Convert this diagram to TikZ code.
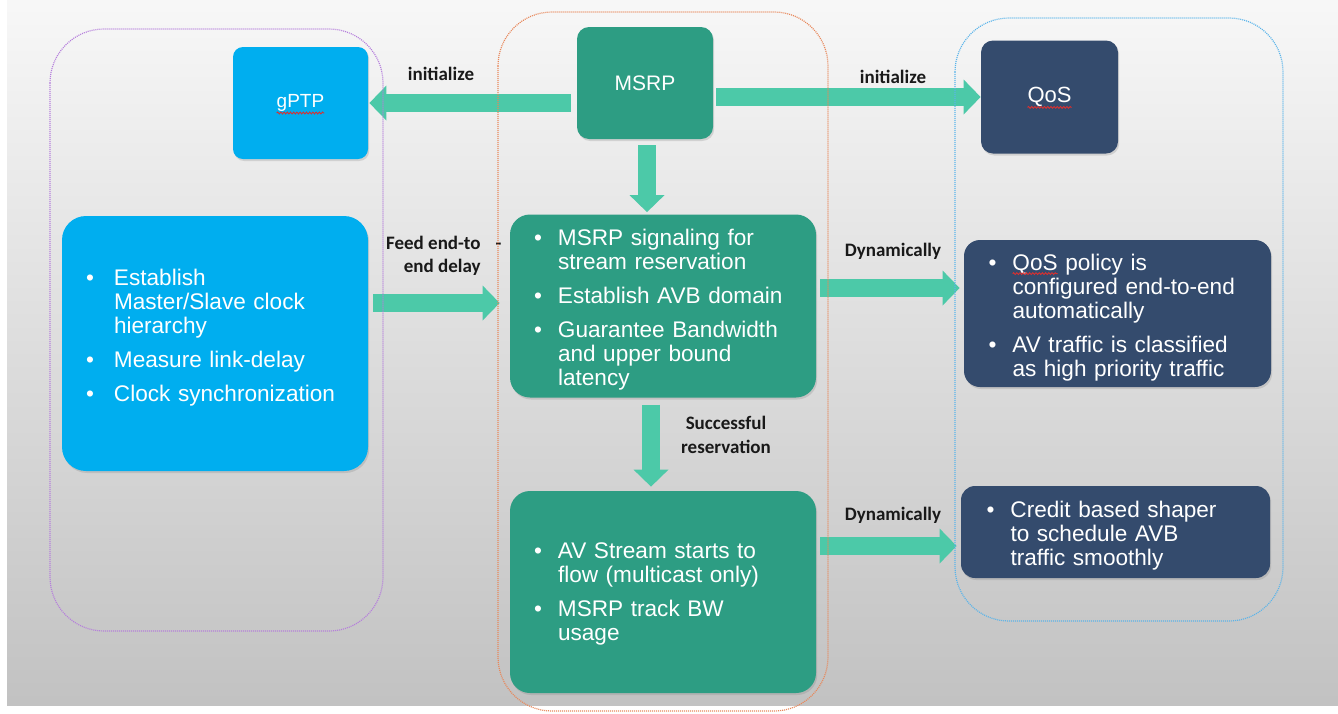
\documentclass[tikz,border=0pt]{standalone}
\usepackage{fontspec}
\setmainfont{Liberation Sans}
\newfontfamily\lblfont{Carlito}
\usetikzlibrary{arrows.meta,shadows,calc,decorations.pathmorphing}

\definecolor{cyanbox}{HTML}{00AEEF}
\definecolor{tealbox}{HTML}{2D9D83}
\definecolor{navybox}{HTML}{344B6D}
\definecolor{mint}{HTML}{4CC9A8}
\definecolor{grppurple}{HTML}{B57EDC}
\definecolor{grporange}{HTML}{E8875A}
\definecolor{grpblue}{HTML}{5AB4EA}
\definecolor{spellred}{HTML}{D93030}

% bullet item with hanging indent
\newcommand\bitem[2][12pt]{\par\hangindent=#1\hangafter=1\noindent\makebox[#1][l]{\textbullet}#2\par}
\newcommand\itemgap{\vspace{5pt}}

\tikzset{
  titlebox/.style={rectangle, inner sep=0pt, text=white,
    drop shadow={shadow xshift=0.6pt, shadow yshift=-1pt, opacity=0.25}},
  listbox/.style={rectangle, inner sep=0pt, text=white, text width=129pt, align=left,
    font=\fontsize{11.3}{12}\selectfont, minimum width=153pt,
    drop shadow={shadow xshift=0.6pt, shadow yshift=-1pt, opacity=0.25}},
  lbl/.style={inner sep=0pt, text=black!90,
    font=\lblfont\bfseries\fontsize{9.5}{11.75}\selectfont},
  blk/.style={draw=mint, line width=8.75pt,
    -{Triangle[width=17.5pt,length=8.5pt,line width=0pt]}},
  grp/.style={line width=0.6pt, dash pattern=on 0.5pt off 0.5pt, rounded corners=27pt},
  wavy/.style={draw=spellred, line width=0.45pt,
    decorate, decoration={snake, segment length=1.6pt, amplitude=0.45pt}},
}

\begin{document}
\begin{tikzpicture}[x=0.5pt,y=-0.5pt]
\useasboundingbox (0,0) rectangle (1338,713);
% page background
\fill[white] (0,0) rectangle (1338,713);
\shade[top color=white!97!black, middle color=white!92!black, bottom color=white!76!black]
  (7,0) rectangle (1338,705);

% title boxes
\node[titlebox, fill=cyanbox, rounded corners=5pt, minimum width=67.5pt, minimum height=56pt,
  font=\fontsize{9.5}{11}\selectfont] (gptp) at (300.5,103) {gPTP};
\node[titlebox, fill=tealbox, rounded corners=6pt, minimum width=68pt, minimum height=56pt,
  font=\fontsize{10.5}{12}\selectfont] (msrp) at (645,83) {MSRP};
\node[titlebox, fill=navybox, rounded corners=6pt, minimum width=68.5pt, minimum height=56.5pt,
  font=\fontsize{11}{12}\selectfont] (qos) at (1049.5,97) {QoS};

% bullet-list boxes
\node[listbox, fill=cyanbox, rounded corners=12pt, minimum height=127.5pt] (ptp) at (215,343.5)
  {\bitem[14pt]{Establish\newline Master/Slave clock\newline hierarchy}\itemgap
   \bitem[14pt]{Measure link-delay}\itemgap
   \bitem[14pt]{Clock synchronization}\vspace{10pt}};
\node[listbox, fill=tealbox, rounded corners=10pt, minimum height=91.5pt] (sig) at (663,306)
  {\bitem{MSRP signaling for\newline stream reservation}\itemgap
   \bitem{Establish AVB domain}\itemgap
   \bitem{Guarantee Bandwidth\newline and upper bound\newline latency}};
\node[listbox, fill=tealbox, rounded corners=10pt, minimum height=101pt] (av) at (663,592)
  {\bitem{AV Stream starts to\newline flow (multicast only)}\itemgap
   \bitem{MSRP track BW\newline usage}\vspace{2pt}};
\node[listbox, fill=navybox, rounded corners=8pt, minimum width=153.5pt, minimum height=73.5pt] (pol) at (1117.5,313.5)
  {\bitem{QoS policy is\newline configured end-to-end\newline automatically}\itemgap
   \bitem{AV traffic is classified\newline as high priority traffic}};
\node[listbox, fill=navybox, rounded corners=7pt, minimum width=154.5pt, minimum height=46pt] (cred) at (1115.5,532)
  {\bitem{Credit based shaper\newline to schedule AVB\newline traffic smoothly}};

% spell-check marks under gPTP and QoS
\draw[wavy] ($(gptp.center)+(-11.9pt,-5pt)$) -- ($(gptp.center)+(11.9pt,-5pt)$);
\draw[wavy] ($(qos.center)+(-11pt,-5.2pt)$) -- ($(qos.center)+(11pt,-5.2pt)$);
\draw[wavy] ($(pol.north west)+(24.5pt,-17pt)$) -- ($(pol.north west)+(47pt,-17pt)$);

% block arrows
\draw[blk] ($(msrp.west |- gptp.east)+(-3pt,0)$) -- ($(gptp.east)+(0.5pt,0)$);
\draw[blk] ($(msrp.east |- qos.west)+(1.5pt,0)$) -- (qos.west);
\draw[blk] ($(msrp.south)+(1pt,-3pt)$) -- ($(msrp.south |- sig.north)+(1pt,1pt)$);
\draw[blk] ($(ptp.east |- sig.west)+(2.5pt,1.5pt)$) -- ($(sig.west)+(-5pt,1.5pt)$);
\draw[blk] ($(sig.south)+(-6pt,-3.5pt)$) -- ($(sig.south |- av.north)+(-6pt,2pt)$);
\draw[blk] ($(sig.east)+(2pt,9pt)$) -- ($(sig.east -| pol.west)+(-2pt,9pt)$);
\draw[blk] ($(av.east |- cred.west)+(2pt,-7pt)$) -- ($(cred.west)+(-2pt,-7pt)$);

% arrow labels
\node[lbl] (init1) at (441,74) {initialize};
\node[lbl] (init2) at (893,77) {initialize};
\node[lbl, anchor=east, align=right] (feed) at (481,256) {Feed end-to\rlap{\hspace{7.5pt}-}\\end delay};
\node[lbl] (dyn1) at (893,251) {Dynamically};
\node[lbl, align=center] (succ) at (726,435) {Successful\\reservation};
\node[lbl] (dyn2) at (893,515) {Dynamically};

% dotted group outlines
\draw[grp, draw=grppurple] (50,29) rectangle (383,631);
\draw[grp, draw=grporange] (498,12) rectangle (828,711);
\draw[grp, draw=grpblue] (955,18) rectangle (1283,621);
\end{tikzpicture}
\end{document}
